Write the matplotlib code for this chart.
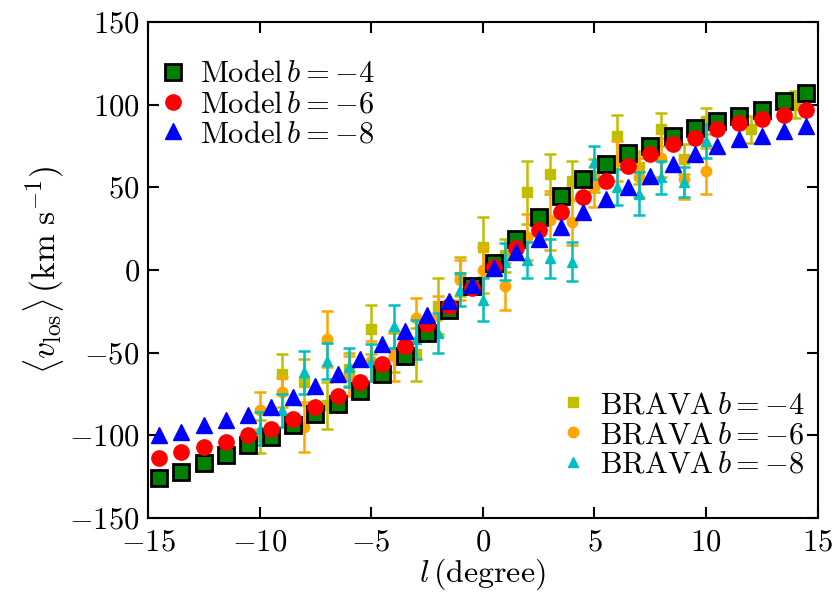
import matplotlib
matplotlib.use("Agg")
import matplotlib.pyplot as plt
import numpy as np

plt.rcParams['font.family'] = 'serif'
plt.rcParams['font.serif'] = ['cmr10', 'DejaVu Serif']
plt.rcParams['mathtext.fontset'] = 'cm'
plt.rcParams['axes.formatter.use_mathtext'] = True
plt.rcParams['axes.unicode_minus'] = True

# model line-of-sight velocity profiles
l_model = [-14.5, -13.5, -12.5, -11.5, -10.5, -9.5, -8.5, -7.5, -6.5, -5.5,
           -4.5, -3.5, -2.5, -1.5, -0.5, 0.5, 1.5, 2.5, 3.5, 4.5,
           5.5, 6.5, 7.5, 8.5, 9.5, 10.5, 11.5, 12.5, 13.5, 14.5]
v_model_b4 = [-126, -122, -117, -112, -106, -101, -94, -87, -81, -73,
              -63, -52, -38, -24, -10, 4, 19, 32, 45, 55,
              64, 71, 75, 81, 86, 90, 93, 97, 102, 107]
v_model_b6 = [-114, -110, -107, -104, -100, -96, -90, -83, -76, -68,
              -57, -46, -33, -22, -11, 2, 13, 24, 35, 44,
              54, 63, 70, 76, 80, 85, 89, 91, 94, 97]
v_model_b8 = [-100, -98, -94, -91, -88, -83, -77, -70, -63, -54,
              -45, -37, -27, -19, -9, 1, 11, 19, 26, 35,
              43, 50, 57, 64, 70, 75, 79, 81, 84, 87]

# BRAVA fields
l_brava_b4 = [-10, -9, -8, -7, -6, -5, -4, -3, -2, -1, 0, 1, 2, 3, 4, 5, 6, 7, 8, 9, 10, 12, 14]
v_brava_b4 = [-101, -63, -68, -82, -60, -36, -50, -51, -22, -4, 14, 9, 47, 58, 54, 57, 81, 62, 85, 67, 90, 85, 100]
e_brava_b4 = [10, 12, 14, 14, 10, 15, 12, 16, 17, 12, 18, 10, 19, 12, 12, 10, 13, 10, 10, 9, 8, 8, 8]

l_brava_b6 = [-10, -9, -8, -7, -6, -5, -4, -3, -2, -1, 0, 1, 2, 3, 4, 5, 6, 7, 8, 9, 10]
v_brava_b6 = [-85, -74, -95, -42, -64, -55, -52, -29, -28, -6, 0, -10, 20, 30, 29, 50, 66, 56, 68, 55, 60]
e_brava_b6 = [11, 9, 15, 17, 12, 12, 15, 12, 12, 12, 14, 14, 14, 18, 14, 12, 12, 12, 12, 12, 14]

l_brava_b8 = [-10, -9, -8, -7, -6, -5, -4, -3, -2, -1, 0, 1, 2, 3, 4, 5, 6, 7, 8, 9, 10]
v_brava_b8 = [-96, -85, -62, -55, -59, -56, -34, -42, -38, -12, -18, 5, 6, 7, 5, 65, 50, 46, 56, 53, 78]
e_brava_b8 = [10, 10, 13, 11, 12, 11, 13, 12, 12, 10, 13, 11, 11, 12, 12, 10, 11, 13, 10, 9, 10]

olive = (0.75, 0.75, 0.0)
orange = '#ffa500'
cyan = (0.0, 0.75, 0.75)

fig = plt.figure(figsize=(8.36, 6.10), dpi=100)
ax = fig.add_axes([0.177, 0.151, 0.801, 0.813])

# observational points with error bars
for l, v, e, c, m, lab in [(l_brava_b4, v_brava_b4, e_brava_b4, olive, 's', r'$\mathrm{BRAVA}\,b=-4$'),
                           (l_brava_b6, v_brava_b6, e_brava_b6, orange, 'o', r'$\mathrm{BRAVA}\,b=-6$'),
                           (l_brava_b8, v_brava_b8, e_brava_b8, cyan, '^', r'$\mathrm{BRAVA}\,b=-8$')]:
    ax.errorbar(l, v, yerr=e, fmt='none', ecolor=c, elinewidth=1.8, capsize=4.5, capthick=1.8, zorder=2)
    ax.plot(l, v, m, color=c, mec=c, ms=7.5, label=lab, zorder=2)

# model curves
ax.plot(l_model, v_model_b4, 's', color='green', mec='black', mew=2, ms=12,
        label=r'$\mathrm{Model}\,b=-4$', zorder=3)
ax.plot(l_model, v_model_b6, 'o', color='red', mec='red', ms=11,
        label=r'$\mathrm{Model}\,b=-6$', zorder=4)
ax.plot(l_model, v_model_b8, '^', color='blue', mec='blue', ms=11,
        label=r'$\mathrm{Model}\,b=-8$', zorder=5)

ax.set_xlim(-15, 15)
ax.set_ylim(-150, 150)
ax.set_xticks(np.arange(-15, 16, 5))
ax.set_yticks(np.arange(-150, 151, 50))
ax.tick_params(direction='in', length=8, width=1.5, top=True, right=True,
               labelsize=22, pad=6)
ax.tick_params(axis='x', pad=8)
for s in ax.spines.values():
    s.set_linewidth(1.5)

ax.set_xlabel(r'$l\,(\mathrm{degree})$', fontsize=23, labelpad=0)
ax.set_ylabel(r'$\langle v_{\rm los}\rangle\,(\mathrm{km\ s^{-1}})$', fontsize=24, labelpad=2)

handles, labels = ax.get_legend_handles_labels()
leg_kw = dict(frameon=False, numpoints=1, fontsize=22, handletextpad=0.4,
              labelspacing=0.08, handlelength=1.0, borderaxespad=0.0)
leg1 = ax.legend(handles[3:], labels[3:], loc='upper left',
                 bbox_to_anchor=(-0.004, 0.946), **leg_kw)
ax.add_artist(leg1)
ax.legend(handles[:3], labels[:3], loc='lower right',
          bbox_to_anchor=(1.0, 0.054), **leg_kw)

fig.savefig('out.png', dpi=100)
